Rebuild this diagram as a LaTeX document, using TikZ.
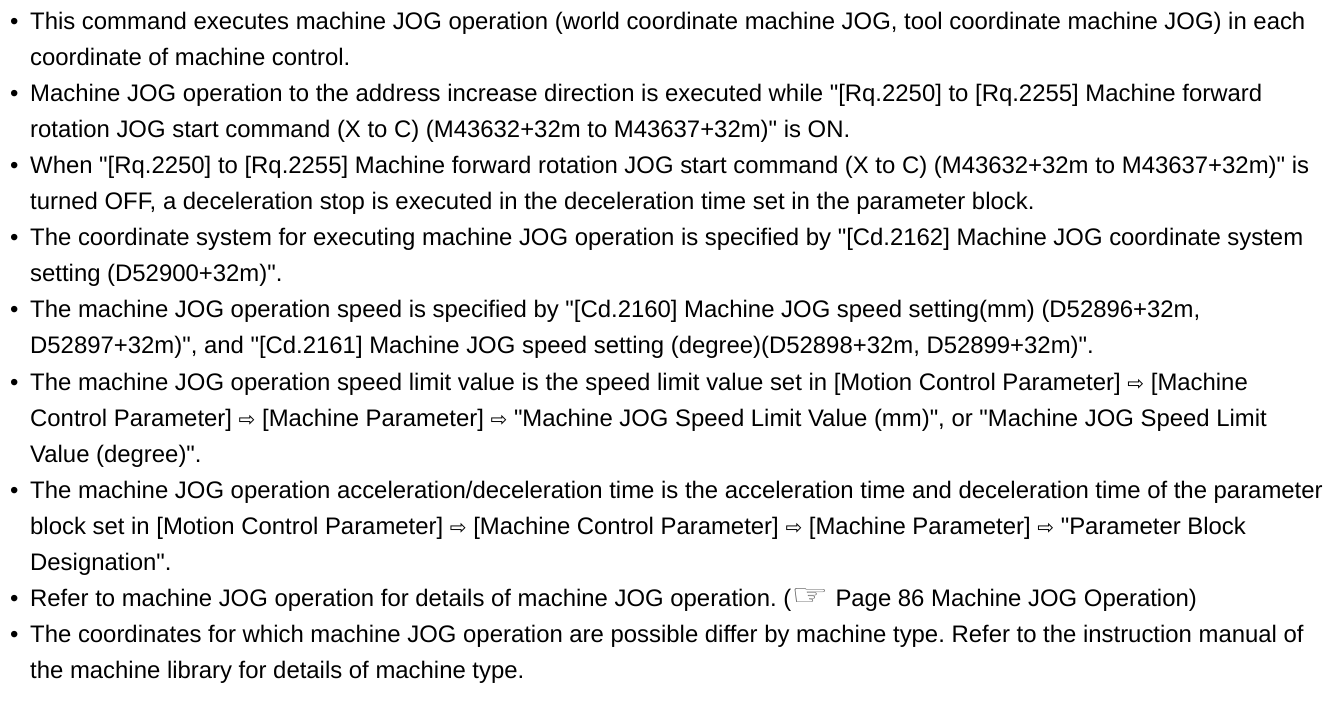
\documentclass[tikz,border=0pt]{standalone}
\usepackage{fontspec}
\usepackage{graphicx}
\setmainfont{Liberation Sans}[Ligatures=TeXOff]
\newfontfamily\symfont{DejaVu Sans}
\frenchspacing
\newcommand{\goto}{{\symfont\fontsize{20}{36.1}\selectfont ⇨}}
\newcommand{\refhand}{\raisebox{1pt}{\scalebox{1.75}[1.25]{\symfont\color{black!60}☞}}}

\tikzset{
  itemtext/.style={anchor=base west, inner sep=0pt, align=left,
    font=\fontsize{23.9}{36.1}\selectfont},
  bullet/.style={anchor=base west, inner sep=0pt,
    font=\fontsize{23.9}{36.1}\selectfont},
}

\begin{document}
\begin{tikzpicture}[x=1pt,y=-1pt]

  % Page frame
  \useasboundingbox (0,0) rectangle (1331,707);

  % Bullets (first baselines)
  \foreach \y [count=\i] in {29.5,101.6,173.7,245.8,317.9,390,498.2,606.4,642.5}
    \node[bullet] (b\i) at (10,\y) {•};

  % Items (placed at the baseline of their last line)
  \node[itemtext] (cmd) at (30,65.55) {This command executes machine JOG operation (world coordinate machine JOG, tool coordinate machine JOG) in each\\coordinate of machine control.};
  \node[itemtext] (fwd) at (30,137.65) {Machine JOG operation to the address increase direction is executed while "[Rq.2250] to [Rq.2255] Machine forward\\rotation JOG start command (X to C) (M43632+32m to M43637+32m)" is ON.};
  \node[itemtext] (off) at (30,209.75) {When "[Rq.2250] to [Rq.2255] Machine forward rotation JOG start command (X to C) (M43632+32m to M43637+32m)" is\\turned OFF, a deceleration stop is executed in the deceleration time set in the parameter block.};
  \node[itemtext] (csys) at (30,281.85) {The coordinate system for executing machine JOG operation is specified by "[Cd.2162] Machine JOG coordinate system\\setting (D52900+32m)".};
  \node[itemtext] (speed) at (30,353.95) {The machine JOG operation speed is specified by "[Cd.2160] Machine JOG speed setting(mm) (D52896+32m,\\D52897+32m)", and "[Cd.2161] Machine JOG speed setting (degree)(D52898+32m, D52899+32m)".};
  \node[itemtext] (limit) at (30,462.2) {The machine JOG operation speed limit value is the speed limit value set in [Motion Control Parameter] \goto{} [Machine\\Control Parameter] \goto{} [Machine Parameter] \goto{} "Machine JOG Speed Limit Value (mm)", or "Machine JOG Speed Limit\\Value (degree)".};
  \node[itemtext] (accel) at (30,570.4) {The machine JOG operation acceleration/deceleration time is the acceleration time and deceleration time of the parameter\\block set in [Motion Control Parameter] \goto{} [Machine Control Parameter] \goto{} [Machine Parameter] \goto{} "Parameter Block\\Designation".};
  \node[itemtext] (refer) at (30,606.4) {Refer to machine JOG operation for details of machine JOG operation. (\refhand{} Page 86 Machine JOG Operation)};
  \node[itemtext] (types) at (30,678.6) {The coordinates for which machine JOG operation are possible differ by machine type. Refer to the instruction manual of\\the machine library for details of machine type.};

\end{tikzpicture}
\end{document}
